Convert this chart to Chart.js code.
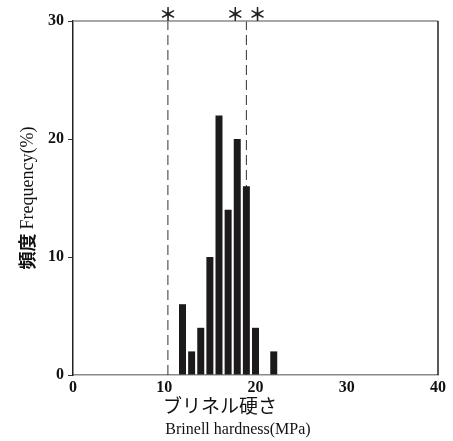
<!DOCTYPE html>
<html>
<head>
<meta charset="utf-8">
<script src="https://cdn.jsdelivr.net/npm/chart.js"></script>
<style>
  body { margin: 0; background: #fff; }
  #wrap { width: 453px; height: 441px; }
</style>
</head>
<body>
<div id="wrap"><canvas id="hardnessChart" width="453" height="441"></canvas></div>
<script>
// histogram bins (MPa) and frequency (%)
const binCenters = [12, 13, 14, 15, 16, 17, 18, 19, 20, 21, 22];
const frequencies = [6, 2, 4, 10, 22, 14, 20, 16, 4, 0, 2];

// dashed reference lines and the marks above them
const markerLines = [10.4, 19.0];
const markerLabels = ["\uFF0A", "\uFF0A \uFF0A"];

const xTitleJa = "ブリネル硬さ";
const xTitleEn = "Brinell hardness(MPa)";
const yTitleJa = "頻度";
const yTitleEn = "Frequency(%)";

const barColor = "#1c1a1b";
const tickFont = { family: "'Liberation Serif', serif", size: 16, weight: "bold" };

const lineSets = markerLines.map((v) => ({
  type: "line",
  data: [{ x: v, y: 0 }, { x: v, y: 30 }],
  borderColor: "#333",
  borderWidth: 1,
  borderDash: [10, 5],
  pointRadius: 0,
}));

// frame, asterisks and axis titles
const decorPlugin = {
  id: "decor",
  afterDraw(chart) {
    const { ctx, chartArea: a, scales } = chart;
    ctx.save();
    // top + right border
    ctx.lineWidth = 1.5;
    ctx.strokeStyle = "#8a8a8a";
    ctx.beginPath();
    ctx.moveTo(a.left, a.top);
    ctx.lineTo(a.right, a.top);
    ctx.stroke();
    ctx.strokeStyle = "#222";
    ctx.beginPath();
    ctx.moveTo(a.right, a.top);
    ctx.lineTo(a.right, a.bottom);
    ctx.stroke();

    // asterisks
    ctx.fillStyle = "#222";
    ctx.font = "bold 18px 'Noto Sans CJK JP'";
    ctx.textAlign = "center";
    ctx.textBaseline = "middle";
    markerLines.forEach((v, i) => {
      ctx.fillText(markerLabels[i], scales.x.getPixelForValue(v), a.top - 7);
    });

    // x title
    ctx.fillStyle = "#111";
    ctx.font = "19px 'Noto Sans CJK JP'";
    ctx.fillText(xTitleJa, a.left + 147, a.bottom + 31);
    ctx.font = "16px 'Liberation Serif'";
    ctx.fillText(xTitleEn, a.left + 165, a.bottom + 55);

    // y title (rotated, reads bottom to top)
    ctx.translate(27, (a.top + a.bottom) / 2);
    ctx.rotate(-Math.PI / 2);
    ctx.font = "bold 18px 'Noto Sans CJK JP'";
    const wJa = ctx.measureText(yTitleJa + " ").width;
    ctx.font = "18px 'Liberation Serif'";
    const wEn = ctx.measureText(yTitleEn).width;
    const start = -(wJa + wEn) / 2;
    ctx.textAlign = "left";
    ctx.font = "bold 18px 'Noto Sans CJK JP'";
    ctx.fillText(yTitleJa, start, 0);
    ctx.font = "18px 'Liberation Serif'";
    ctx.fillText(yTitleEn, start + wJa, 1);
    ctx.restore();
  },
};

new Chart(document.querySelector("#hardnessChart"), {
  type: "bar",
  data: {
    datasets: [
      {
        data: binCenters.map((x, i) => ({ x: x, y: frequencies[i] })),
        backgroundColor: barColor,
        barPercentage: 0.85,
        categoryPercentage: 0.9,
      },
      ...lineSets,
    ],
  },
  options: {
    responsive: false,
    animation: false,
    layout: { padding: { top: 21, right: 15, left: 0, bottom: 0 } },
    plugins: { legend: { display: false }, tooltip: { enabled: false } },
    scales: {
      x: {
        type: "linear",
        offset: false,
        min: 0,
        max: 40,
        grid: { display: false, drawTicks: false },
        border: { color: "#8a8a8a", width: 1.5 },
        ticks: { stepSize: 10, font: tickFont, color: "#111", padding: 3, maxRotation: 0 },
        afterFit: (s) => { s.height = 66; },
      },
      y: {
        min: 0,
        max: 30,
        grid: { drawOnChartArea: false, tickLength: 5, color: "#333", tickWidth: 1 },
        border: { color: "#222", width: 1.5 },
        ticks: { stepSize: 10, font: tickFont, color: "#111", padding: 4 },
        afterFit: (s) => { s.width = 73; },
      },
    },
  },
  plugins: [decorPlugin],
});
</script>
</body>
</html>
